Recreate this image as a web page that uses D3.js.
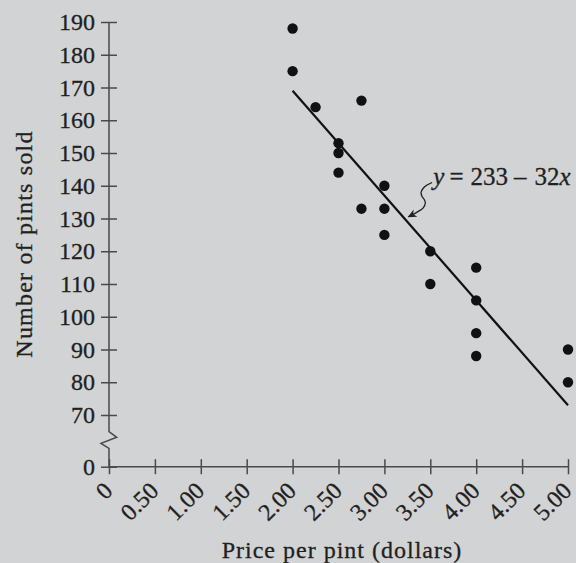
<!DOCTYPE html>
<html lang="en">
<head>
<meta charset="utf-8">
<title>Price per pint vs pints sold</title>
<script src="https://cdnjs.cloudflare.com/ajax/libs/d3/7.8.5/d3.min.js"></script>
<style>
  body { margin: 0; background: #d1d3d4; }
  svg { display: block; }
  text { font-family: 'Liberation Serif', 'Times New Roman', serif; fill: #231f20; stroke: #231f20; stroke-width: 0.3px; }
</style>
</head>
<body>
<svg id="chart"></svg>
<script>
// data
var prices = [2.00, 2.00, 2.25, 2.75, 2.50, 2.50, 2.50, 3.00, 2.75, 3.00, 3.00, 3.50, 4.00, 3.50, 4.00, 4.00, 4.00, 5.00, 5.00];
var pints  = [188, 175, 164, 166, 153, 150, 144, 140, 133, 133, 125, 120, 115, 110, 105, 95, 88, 90, 80];
var xTicks = [0, 0.5, 1, 1.5, 2, 2.5, 3, 3.5, 4, 4.5, 5];
var xTickLabels = ["0", "0.50", "1.00", "1.50", "2.00", "2.50", "3.00", "3.50", "4.00", "4.50", "5.00"];
var yTicks = [0, 70, 80, 90, 100, 110, 120, 130, 140, 150, 160, 170, 180, 190];
var fitIntercept = 233, fitSlope = -32, fitFrom = 2, fitTo = 5;

var w = 576, h = 563;
var axisColor = "#4a4a4c";

var svg = d3.select("#chart").attr("width", w).attr("height", h);

var x = d3.scaleLinear().domain([0, 5]).range([109, 568]);
// broken axis: 0 sits below the break, 70..190 above it
var y = d3.scaleLinear().domain([0, 70, 190]).range([466.7, 415, 22]);

// arrow head for the equation leader
svg.append("defs").append("marker")
  .attr("id", "arrow")
  .attr("viewBox", "0 0 10 10")
  .attr("refX", 9).attr("refY", 5)
  .attr("markerWidth", 9).attr("markerHeight", 9)
  .attr("markerUnits", "userSpaceOnUse")
  .attr("orient", "auto")
  .append("path")
  .attr("d", "M0,0.5 L10,5 L0,9.5 L3,5 Z")
  .attr("fill", "#231f20");

// y axis
var yAxis = d3.axisLeft(y).tickValues(yTicks).tickSize(8).tickPadding(6);
var gy = svg.append("g")
  .attr("transform", "translate(" + x(0) + ",0)")
  .call(yAxis);
gy.select(".domain").remove();
gy.selectAll(".tick line").attr("x1", 8).attr("stroke", axisColor).attr("stroke-width", 1.5);
gy.selectAll(".tick text")
  .attr("font-family", "'Liberation Serif', serif")
  .attr("font-size", 24)
  .attr("fill", "#231f20");

// x axis
var xAxis = d3.axisBottom(x).tickValues(xTicks).tickSize(7.5)
  .tickFormat(function(d, i) { return xTickLabels[i]; });
var gx = svg.append("g")
  .attr("transform", "translate(0," + y(0) + ")")
  .call(xAxis);
gx.select(".domain").remove();
gx.selectAll(".tick line").attr("y1", -7.5).attr("stroke", axisColor).attr("stroke-width", 1.5);
gx.selectAll(".tick text")
  .attr("x", 0).attr("y", 0).attr("dy", null)
  .attr("text-anchor", "end")
  .attr("transform", "translate(4.5,25.5) rotate(-45)")
  .attr("font-family", "'Liberation Serif', serif")
  .attr("font-size", 24)
  .attr("fill", "#231f20");

// axis lines, with the zigzag break on the y axis
var x0 = x(0), y0 = y(0);
var line = d3.line();
svg.append("path")
  .attr("d", line([[x0, y(190)], [x0, y0 - 35], [x0 + 7.7, y0 - 29.4], [x0 - 8, y0 - 23.4], [x0, y0 - 18.4], [x0, y0]]))
  .attr("fill", "none").attr("stroke", axisColor).attr("stroke-width", 1.5);
svg.append("path")
  .attr("d", line([[x0, y0], [x(5), y0]]))
  .attr("fill", "none").attr("stroke", axisColor).attr("stroke-width", 1.5);

// fitted line
svg.append("line")
  .attr("x1", x(fitFrom)).attr("y1", y(fitIntercept + fitSlope * fitFrom))
  .attr("x2", x(fitTo)).attr("y2", y(fitIntercept + fitSlope * fitTo))
  .attr("stroke", "#111").attr("stroke-width", 2.2);

// points
svg.selectAll("circle.pt")
  .data(prices)
  .enter().append("circle")
  .attr("class", "pt")
  .attr("cx", function(d) { return x(d); })
  .attr("cy", function(d, i) { return y(pints[i]); })
  .attr("r", 5.2)
  .attr("fill", "#111");

// equation label with curly leader
var tipX = x(3.25), tipY = y(fitIntercept + fitSlope * 3.25) - 5;
var leader = [[24.7, -34.3], [19.7, -31.7], [15.7, -28.3], [13.7, -24.3], [14.7, -20.3], [17, -17], [18, -13.7], [15.7, -8.7], [9.7, -4.7], [1, 0]];
svg.append("path")
  .attr("d", d3.line().curve(d3.curveCatmullRom)(leader.map(function(p) { return [tipX + p[0], tipY + p[1]]; })))
  .attr("fill", "none")
  .attr("stroke", "#231f20")
  .attr("stroke-width", 1.3)
  .attr("marker-end", "url(#arrow)");

var eq = svg.append("text")
  .attr("x", tipX + 26)
  .attr("y", tipY - 31.5)
  .attr("font-size", 25);
eq.append("tspan").attr("font-style", "italic").text("y");
eq.append("tspan").attr("dx", 5).text("=");
eq.append("tspan").attr("dx", 7).text("233");
eq.append("tspan").attr("dx", 6).text("–");
eq.append("tspan").attr("dx", 8).text("32");
eq.append("tspan").attr("font-style", "italic").text("x");

// axis titles
svg.append("text")
  .attr("x", 342)
  .attr("y", 558)
  .attr("text-anchor", "middle")
  .attr("font-size", 24)
  .attr("letter-spacing", 1)
  .text("Price per pint (dollars)");

svg.append("text")
  .attr("transform", "translate(32,244) rotate(-90)")
  .attr("text-anchor", "middle")
  .attr("font-size", 24)
  .attr("letter-spacing", 1.2)
  .text("Number of pints sold");
</script>
</body>
</html>
